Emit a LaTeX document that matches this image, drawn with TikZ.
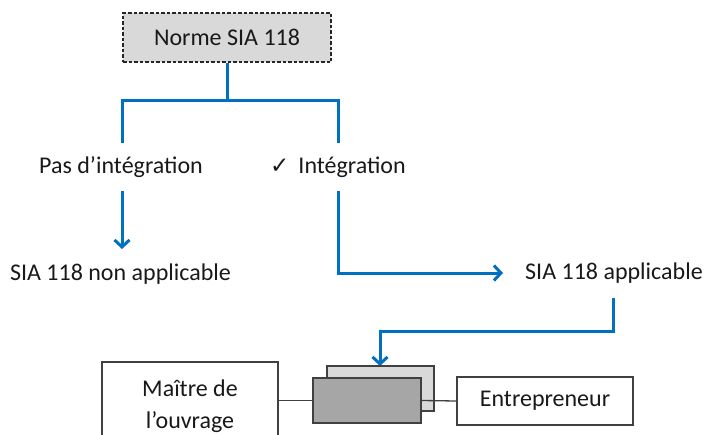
\documentclass[tikz,border=0pt]{standalone}
\usepackage{fontspec}
\setmainfont{Carlito}
\newfontfamily\symfont{DejaVu Sans}
\usetikzlibrary{arrows.meta}
\definecolor{flowblue}{HTML}{0070C0}
\definecolor{lightfill}{HTML}{D9D9D9}
\definecolor{darkfill}{HTML}{A6A6A6}
\definecolor{edge}{HTML}{404040}
\begin{document}
\begin{tikzpicture}[x=1pt,y=-1pt,
  lbl/.style={inner sep=0pt, font=\fontsize{24}{28}\selectfont, text=black!90},
  boxw/.style={draw=edge, line width=1.1pt, fill=white, inner sep=0pt, font=\fontsize{24}{32}\selectfont, text=black!90, align=center},
  flow/.style={draw=flowblue, line width=3pt},
  flowarr/.style={flow, -{Straight Barb[length=7pt,width=15pt,line width=3pt]}},
  conn/.style={draw=edge, line width=1.3pt}]
\useasboundingbox (0,0) rectangle (706,434);
\clip (0,0) rectangle (706,434);

% top box
\node[draw=black!85, dash pattern=on 3.5pt off 2pt, line width=1.4pt, fill=lightfill,
  minimum width=208pt, minimum height=49pt, inner sep=0pt,
  font=\fontsize{24}{28}\selectfont, text=black!90] (norme) at (227,37.5) {Norme SIA 118};

% labels
\node[lbl] (pas) at (121,167) {Pas d’intégration};
\node[lbl, anchor=west] (integ) at (270,167) {{\symfont\fontsize{23}{26}\selectfont ✓}\hspace{9pt}Intégration};
\node[lbl] (nonapp) at (120.5,274) {SIA 118 non applicable};
\node[lbl, anchor=west] (app) at (525,273) {SIA 118 applicable};

% coordinates
\coordinate (split) at (227,100);
\coordinate (lsplit) at (122,100);
\coordinate (rsplit) at (338,100);
\coordinate (lend) at (122,143);
\coordinate (rend) at (338,143);
\coordinate (pasbot) at (122,191);
\coordinate (nontip) at (122,249);
\coordinate (intbot) at (338,191);
\coordinate (intcorner) at (338,273);
\coordinate (apptip) at (503,273);
\coordinate (appbot) at (613,298);
\coordinate (appturn) at (613,331);
\coordinate (downturn) at (380,331);
\coordinate (boxtip) at (380,366);

% blue connectors
\draw[flow] (norme.south) -- (split);
\draw[flow] (lend) -- (lsplit) -- (rsplit) -- (rend);
\draw[flowarr] (pasbot) -- (nontip);
\draw[flowarr] (intbot) -- (intcorner) -- (apptip);
\draw[flowarr] (appbot) -- (appturn) -- (downturn) -- (boxtip);

% bottom boxes
\node[boxw, minimum width=176pt, minimum height=88pt] (maitre) at (190,406) {Maître de\\l’ouvrage};
\node[boxw, minimum width=176pt, minimum height=48pt] (entre) at (545,401) {Entrepreneur};
\node[draw=edge, line width=1.1pt, fill=lightfill, minimum width=107pt, minimum height=45pt, inner sep=0pt] (back) at (380.5,388.5) {};
\node[draw=edge, line width=1.1pt, fill=darkfill, minimum width=108pt, minimum height=45pt, inner sep=0pt] (front) at (367,400.5) {};
\draw[conn] (maitre.east |- front.west) -- (front.west);
\draw[conn] (front.east) -- (entre.west);
\end{tikzpicture}
\end{document}
